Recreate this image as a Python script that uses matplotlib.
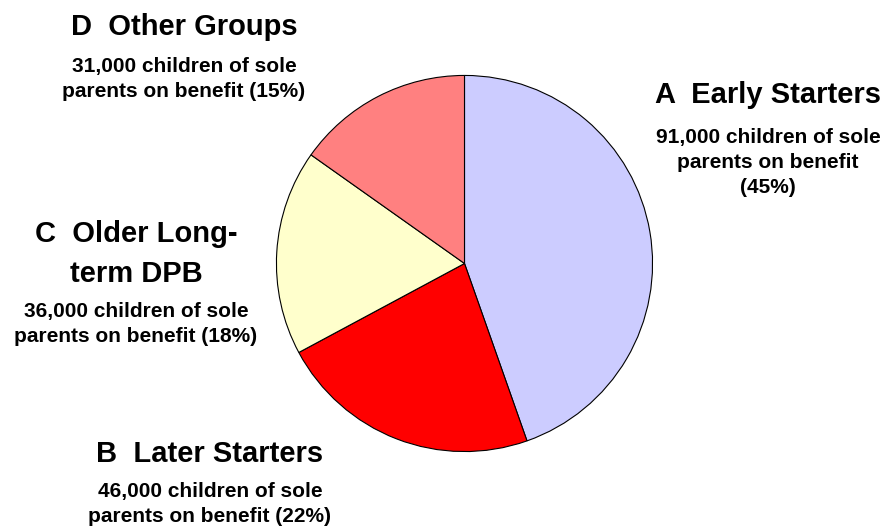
import matplotlib.pyplot as plt

# segment data
codes = ["A", "B", "C", "D"]
names = ["Early Starters", "Later Starters", "Older Long-\nterm DPB", "Other Groups"]
children = [91000, 46000, 36000, 31000]
shares = [45, 22, 18, 15]
colors = ["#CCCCFF", "#FF0000", "#FFFFCC", "#FF8080"]

W, H = 883, 527
fig = plt.figure(figsize=(W / 100, H / 100), dpi=100)
plt.rcParams["font.family"] = ["Liberation Sans", "DejaVu Sans"]

# pie area: centre (464, 264), radius 189 px
cx, cy, r = 464.5, 263.5, 189
ax = fig.add_axes([(cx - r) / W, 1 - (cy + r) / H, 2 * r / W, 2 * r / H])
ax.pie(children, colors=colors, startangle=90, counterclock=False,
       wedgeprops={"edgecolor": "black", "linewidth": 0.8})
ax.set_xlim(-1.005, 1.005)
ax.set_ylim(-1.005, 1.005)
ax.set_aspect("equal")
ax.axis("off")

def fx(x):
    return x / W

def fy(y):
    return 1 - y / H

# label layout in pixels: x centre, title baselines, detail baselines
label_pos = {
    "A": (768, [103], [143, 168, 193]),
    "B": (210, [462], [497, 522]),
    "C": (136, [242, 282], [317, 342]),
    "D": (184, [35], [72, 97]),
}
detail_text = {
    "A": "{} children of sole\nparents on benefit\n({}%)",
    "B": "{} children of sole\nparents on benefit ({}%)",
    "C": "{} children of sole\nparents on benefit ({}%)",
    "D": "{} children of sole\nparents on benefit ({}%)",
}

for code, name, n, pct in zip(codes, names, children, shares):
    x, title_ys, detail_ys = label_pos[code]
    title_lines = (code + "  " + name).split("\n")
    for line, y in zip(title_lines, title_ys):
        fig.text(fx(x), fy(y), line, ha="center", va="baseline",
                 fontsize=21, fontweight="bold")
    detail_lines = detail_text[code].format(f"{n:,}", pct).split("\n")
    for line, y in zip(detail_lines, detail_ys):
        fig.text(fx(x), fy(y), line, ha="center", va="baseline",
                 fontsize=15, fontweight="bold")

fig.savefig("out.png", dpi=100)
